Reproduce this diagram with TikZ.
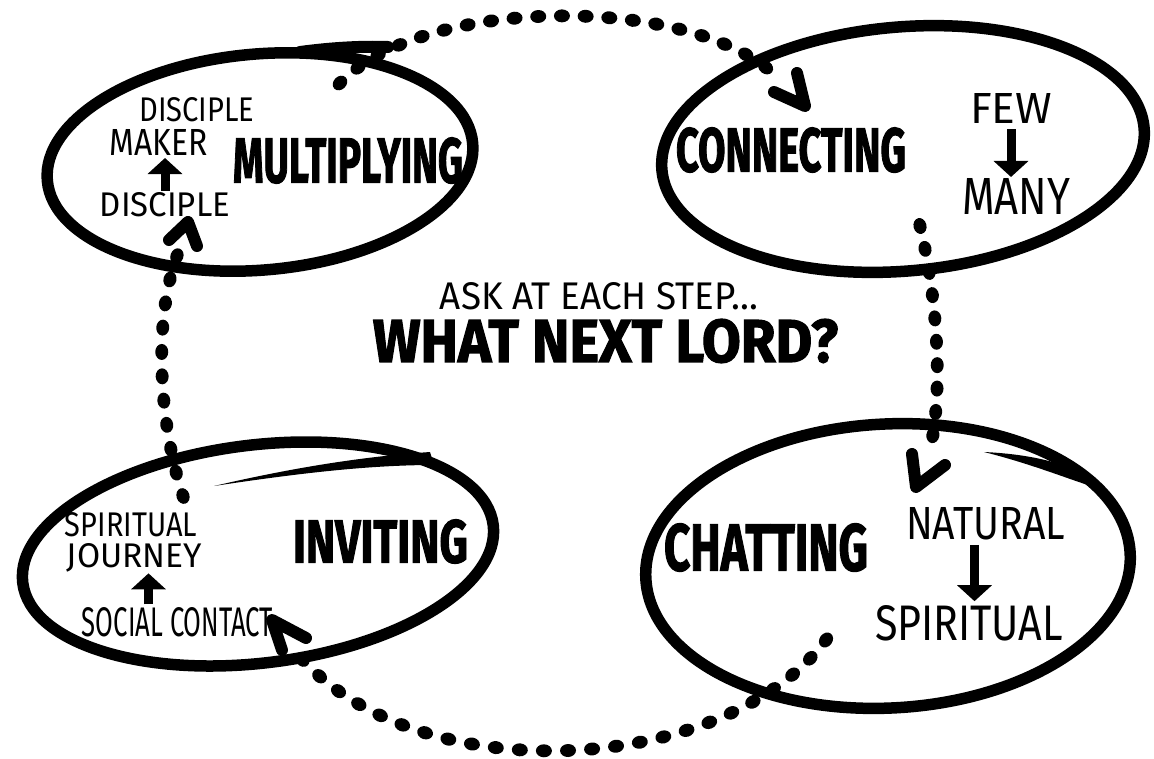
\documentclass[tikz,border=0pt]{standalone}
\usepackage{fontspec}
\setmainfont{Fira Sans}
\newfontfamily\heavy{Fira Sans}[BoldFeatures={FakeBold=2}]
\usetikzlibrary{arrows.meta,shapes.geometric,decorations.markings}
\newcommand\mkfit[3]{\resizebox{#1pt}{#2pt}{#3}}
\newcommand\ttl[3]{\resizebox{#1pt}{#2pt}{\heavy\bfseries #3}}
\begin{document}
\begin{tikzpicture}[x=1pt,y=-1pt,
  ring/.style={ellipse, draw=black, line width=11.5pt, inner sep=0pt, outer sep=0pt},
  lab/.style={inner sep=0pt, outer sep=0pt, text=black},
  dotline/.style n args={2}{decoration={markings,
      mark=between positions 0 and #2 step #1 with {\fill[black] (0,0) ellipse [x radius=8pt, y radius=6.5pt];},
      mark=at position 1 with {\fill[black] (0,0) ellipse [x radius=8pt, y radius=6.5pt];}},
      postaction={decorate}},
  chev/.style={draw=black, line width=12pt, line cap=round, line join=round},
  bigarrow/.style={draw=black, line width=9pt, -{Triangle[length=16pt,width=34pt]}}
]
\useasboundingbox (0,0) rectangle (1154,758);

% ellipses
\node[ring, minimum width=427pt, minimum height=216pt, rotate=5] (multE) at (260,162) {};
\node[ring, minimum width=484pt, minimum height=244pt, rotate=5] (connE) at (903,149) {};
\node[ring, minimum width=474pt, minimum height=218pt, rotate=7] (invE) at (258,554) {};
\node[ring, minimum width=485pt, minimum height=284pt, rotate=3] (chatE) at (888,566) {};

% marker overshoots
\draw[black, line width=12pt, line cap=round] (300,52) .. controls (330,48) and (360,46) .. (388,47);
\fill[black] (214,486) .. controls (300,466) and (370,456) .. (430,452) -- (434,465) .. controls (370,465) and (300,473) .. (214,486) -- cycle;
\fill[black] (984,452) .. controls (1050,455) and (1095,472) .. ([xshift=-2pt,yshift=-3pt]chatE.16) -- ([xshift=-6pt,yshift=10pt]chatE.14) .. controls (1085,486) and (1040,466) .. (984,452) -- cycle;

% dotted connectors
\coordinate (t1) at (340,83);
\coordinate (t2) at (783,83);
\path[dotline={0.05}{0.97}] (t1) .. controls (425,-5) and (700,-8) .. (t2);
\coordinate (ta) at (805,106);
\draw[chev] (774,92) -- (ta) -- (797,73);

\coordinate (r1) at (920,226);
\coordinate (r2) at (928,458);
\path[dotline={0.1}{0.95}] (r1) .. controls (938,300) and (944,400) .. (r2);
\coordinate (ra) at (916,487);
\draw[chev] (912,454) -- (ra) -- (945,465);

\coordinate (b1) at (826,640);
\coordinate (b2) at (287,641);
\path[dotline={0.04}{0.98}] (b1) .. controls (720,780) and (400,795) .. (b2);
\coordinate (ba) at (272,620);
\draw[chev] (282,650) -- (ba) -- (306,638);

\coordinate (l1) at (183,496);
\coordinate (l2) at (187,234);
\path[dotline={0.0909}{0.95}] (l1) .. controls (158,420) and (150,300) .. (l2);
\coordinate (la) at (188,222);
\draw[chev] (169,240) -- (la) -- (197,246);

% texts
\node[lab] (dis1) at (197,110) {\mkfit{115}{24}{DISCIPLE}};
\node[lab] (maker) at (159,142) {\mkfit{98}{26}{MAKER}};
\node[lab] (dis2) at (165,205) {\mkfit{130}{24}{DISCIPLE}};
\node[lab] (mult) at (348,160.5) {\ttl{230}{45}{MULTIPLYING}};

\node[lab] (conn) at (791,150) {\ttl{230}{44}{CONNECTING}};
\node[lab] (few) at (1011,108) {\mkfit{82}{30}{FEW}};
\node[lab] (many) at (1016,196) {\mkfit{108}{36}{MANY}};

\node[lab] (ask) at (599,296) {\mkfit{318}{27}{ASK AT EACH STEP...}};
\node[lab] (what) at (605.5,341) {\ttl{465}{43}{WHAT NEXT LORD?}};

\node[lab] (spir1) at (131,525) {\mkfit{132}{24}{SPIRITUAL}};
\node[lab] (journey) at (134.5,558) {\mkfit{135}{24}{JOURNEY}};
\node[lab] (social) at (177.5,622) {\mkfit{191}{29}{SOCIAL CONTACT}};
\node[lab] (inv) at (380.5,541.5) {\ttl{175}{43}{INVITING}};

\node[lab] (chat) at (766,547.5) {\ttl{204}{47}{CHATTING}};
\node[lab] (nat) at (985.5,523.5) {\mkfit{159}{32}{NATURAL}};
\node[lab] (spir2) at (969,623) {\mkfit{188}{35}{SPIRITUAL}};

% inner arrows
\draw[bigarrow, shorten <=2pt, shorten >=3pt] (dis2.north) -- (dis2.north |- maker.south);
\draw[bigarrow, shorten <=6pt, shorten >=1pt] (few.south) -- (few.south |- many.north);
\draw[bigarrow, shorten <=3pt, shorten >=1pt] ([xshift=-29pt]social.north) -- ([xshift=-29pt]social.north |- journey.south);
\draw[bigarrow, shorten <=5pt, shorten >=4pt] ([xshift=-11pt]nat.south) -- ([xshift=-11pt]nat.south |- spir2.north);
\end{tikzpicture}
\end{document}
